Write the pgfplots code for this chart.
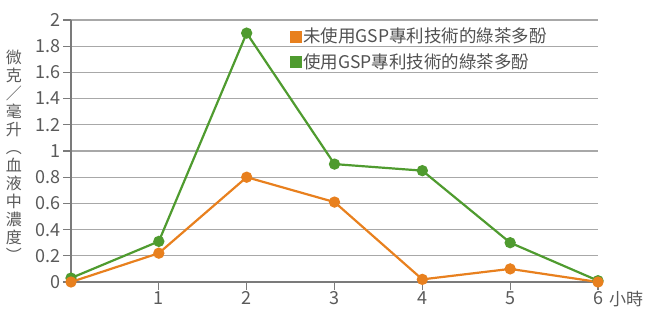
\documentclass[border=0pt]{standalone}
\usepackage{pgfplots}
\pgfplotsset{compat=1.18}
\usepackage{fontspec}
\setmainfont{Noto Sans CJK TC}
\definecolor{orng}{HTML}{E8801E}
\definecolor{grn}{HTML}{4F9B2F}
\definecolor{txt}{HTML}{5A5A5A}
\definecolor{gridc}{HTML}{A8A8A8}
\begin{document}
\begin{tikzpicture}
\path[use as bounding box] (-71bp,-27bp) rectangle (580bp,282bp);
\begin{axis}[
  at={(0,0)}, anchor=south west,
  scale only axis, width=527bp, height=262bp,
  xmin=0, xmax=6, ymin=0, ymax=2,
  clip=false,
  axis lines*=left,
  axis line style={draw=txt!80, line width=1.3bp},
  xtick={1,2,3,4,5,6},
  ytick={0,0.2,0.4,0.6,0.8,1,1.2,1.4,1.6,1.8,2},
  yticklabels={0,0.2,0.4,0.6,0.8,1,1.2,1.4,1.6,1.8,2},
  tick align=outside,
  major tick length=8bp,
  tick style={draw=txt!80, line width=1.2bp},
  ymajorgrids,
  grid style={draw=gridc, line width=1.2bp},
  ticklabel style={font=\fontsize{18bp}{20bp}\selectfont, text=txt},
  xticklabel style={yshift=2bp},
  yticklabel style={xshift=1bp},
  /pgf/number format/assume math mode=true,
  legend style={at={(0.41,0.985)}, anchor=north west, draw=none, fill=none,
    font=\fontsize{17.5bp}{20bp}\selectfont, text=txt!90!black, row sep=5bp,
    /tikz/every even column/.append style={column sep=0bp}},
  legend cell align=left,
]
\addlegendimage{only marks, mark=square*, mark size=5.5bp, orng}
\addlegendentry{未使用GSP專利技術的綠茶多酚}
\addlegendimage{only marks, mark=square*, mark size=5.5bp, grn}
\addlegendentry{使用GSP專利技術的綠茶多酚}
\addplot[forget plot, grn, line width=2.2bp, mark=*, mark size=4.5bp] coordinates {
(0,0.03) (1,0.31) (2,1.9) (3,0.9) (4,0.85) (5,0.3) (6,0.01)};
\addplot[forget plot, orng, line width=2.2bp, mark=*, mark size=4.5bp] coordinates {
(0,0) (1,0.22) (2,0.8) (3,0.61) (4,0.02) (5,0.1) (6,0)};
\end{axis}
\node[text=txt, font=\fontsize{16bp}{18bp}\selectfont, align=center, inner sep=0pt] at (-57bp,126bp)
  {微\\克\\／\\毫\\升\\︵\\血\\液\\中\\濃\\度\\︶};
\node[text=txt, font=\fontsize{17bp}{18bp}\selectfont, inner sep=0pt] at (555bp,-17bp) {小時};
\end{tikzpicture}
\end{document}
